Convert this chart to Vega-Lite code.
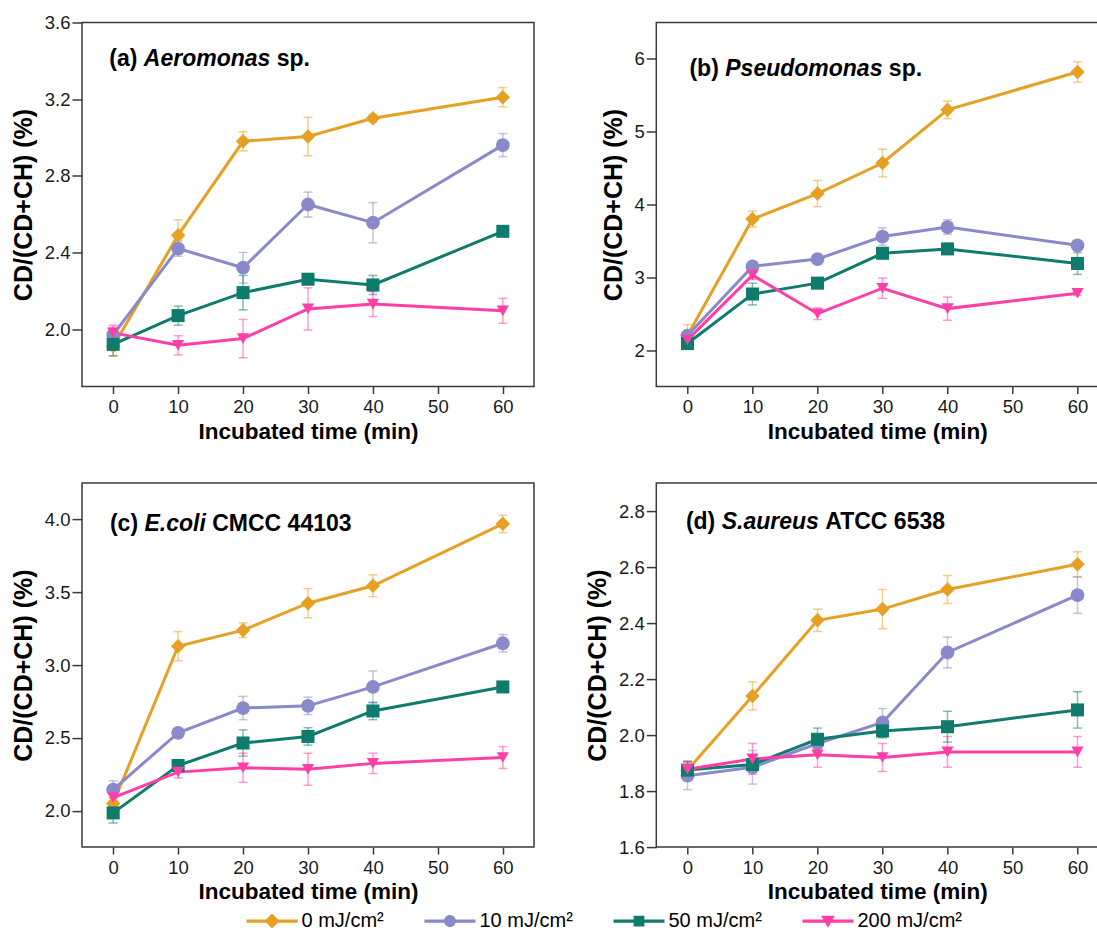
{
"$schema": "https://vega.github.io/schema/vega-lite/v6.json",
"background": "white",
"padding": {"left": 10, "top": 12.5, "right": 0, "bottom": 0},
"datasets": {
"pts": [
{"p":"a","dose":"0 mJ/cm²","t":0,"v":1.91,"e":0.05},
{"p":"a","dose":"0 mJ/cm²","t":10,"v":2.49,"e":0.08},
{"p":"a","dose":"0 mJ/cm²","t":20,"v":2.98,"e":0.05},
{"p":"a","dose":"0 mJ/cm²","t":30,"v":3.005,"e":0.10},
{"p":"a","dose":"0 mJ/cm²","t":40,"v":3.10,"e":0.02},
{"p":"a","dose":"0 mJ/cm²","t":60,"v":3.21,"e":0.05},
{"p":"a","dose":"10 mJ/cm²","t":0,"v":1.97,"e":0.04},
{"p":"a","dose":"10 mJ/cm²","t":10,"v":2.42,"e":0.04},
{"p":"a","dose":"10 mJ/cm²","t":20,"v":2.32,"e":0.08},
{"p":"a","dose":"10 mJ/cm²","t":30,"v":2.65,"e":0.065},
{"p":"a","dose":"10 mJ/cm²","t":40,"v":2.555,"e":0.105},
{"p":"a","dose":"10 mJ/cm²","t":60,"v":2.96,"e":0.06},
{"p":"a","dose":"50 mJ/cm²","t":0,"v":1.92,"e":0.06},
{"p":"a","dose":"50 mJ/cm²","t":10,"v":2.07,"e":0.05},
{"p":"a","dose":"50 mJ/cm²","t":20,"v":2.19,"e":0.09},
{"p":"a","dose":"50 mJ/cm²","t":30,"v":2.26,"e":0.02},
{"p":"a","dose":"50 mJ/cm²","t":40,"v":2.23,"e":0.05},
{"p":"a","dose":"50 mJ/cm²","t":60,"v":2.51,"e":0.01},
{"p":"a","dose":"200 mJ/cm²","t":0,"v":1.98,"e":0.04},
{"p":"a","dose":"200 mJ/cm²","t":10,"v":1.915,"e":0.05},
{"p":"a","dose":"200 mJ/cm²","t":20,"v":1.95,"e":0.10},
{"p":"a","dose":"200 mJ/cm²","t":30,"v":2.105,"e":0.11},
{"p":"a","dose":"200 mJ/cm²","t":40,"v":2.13,"e":0.065},
{"p":"a","dose":"200 mJ/cm²","t":60,"v":2.095,"e":0.065},
{"p":"b","dose":"0 mJ/cm²","t":0,"v":2.20,"e":0.15},
{"p":"b","dose":"0 mJ/cm²","t":10,"v":3.80,"e":0.11},
{"p":"b","dose":"0 mJ/cm²","t":20,"v":4.15,"e":0.18},
{"p":"b","dose":"0 mJ/cm²","t":30,"v":4.57,"e":0.19},
{"p":"b","dose":"0 mJ/cm²","t":40,"v":5.30,"e":0.12},
{"p":"b","dose":"0 mJ/cm²","t":60,"v":5.82,"e":0.14},
{"p":"b","dose":"10 mJ/cm²","t":0,"v":2.20,"e":0.05},
{"p":"b","dose":"10 mJ/cm²","t":10,"v":3.15,"e":0.05},
{"p":"b","dose":"10 mJ/cm²","t":20,"v":3.25,"e":0.05},
{"p":"b","dose":"10 mJ/cm²","t":30,"v":3.56,"e":0.12},
{"p":"b","dose":"10 mJ/cm²","t":40,"v":3.69,"e":0.10},
{"p":"b","dose":"10 mJ/cm²","t":60,"v":3.44,"e":0.06},
{"p":"b","dose":"50 mJ/cm²","t":0,"v":2.09,"e":0.04},
{"p":"b","dose":"50 mJ/cm²","t":10,"v":2.77,"e":0.15},
{"p":"b","dose":"50 mJ/cm²","t":20,"v":2.92,"e":0.04},
{"p":"b","dose":"50 mJ/cm²","t":30,"v":3.33,"e":0.05},
{"p":"b","dose":"50 mJ/cm²","t":40,"v":3.39,"e":0.04},
{"p":"b","dose":"50 mJ/cm²","t":60,"v":3.19,"e":0.15},
{"p":"b","dose":"200 mJ/cm²","t":0,"v":2.14,"e":0.05},
{"p":"b","dose":"200 mJ/cm²","t":10,"v":3.03,"e":0.06},
{"p":"b","dose":"200 mJ/cm²","t":20,"v":2.50,"e":0.08},
{"p":"b","dose":"200 mJ/cm²","t":30,"v":2.85,"e":0.14},
{"p":"b","dose":"200 mJ/cm²","t":40,"v":2.57,"e":0.16},
{"p":"b","dose":"200 mJ/cm²","t":60,"v":2.78,"e":0.03},
{"p":"c","dose":"0 mJ/cm²","t":0,"v":2.05,"e":0.04},
{"p":"c","dose":"0 mJ/cm²","t":10,"v":3.13,"e":0.10},
{"p":"c","dose":"0 mJ/cm²","t":20,"v":3.24,"e":0.05},
{"p":"c","dose":"0 mJ/cm²","t":30,"v":3.425,"e":0.10},
{"p":"c","dose":"0 mJ/cm²","t":40,"v":3.545,"e":0.075},
{"p":"c","dose":"0 mJ/cm²","t":60,"v":3.97,"e":0.06},
{"p":"c","dose":"10 mJ/cm²","t":0,"v":2.145,"e":0.06},
{"p":"c","dose":"10 mJ/cm²","t":10,"v":2.535,"e":0.03},
{"p":"c","dose":"10 mJ/cm²","t":20,"v":2.705,"e":0.08},
{"p":"c","dose":"10 mJ/cm²","t":30,"v":2.72,"e":0.06},
{"p":"c","dose":"10 mJ/cm²","t":40,"v":2.85,"e":0.11},
{"p":"c","dose":"10 mJ/cm²","t":60,"v":3.15,"e":0.06},
{"p":"c","dose":"50 mJ/cm²","t":0,"v":1.985,"e":0.07},
{"p":"c","dose":"50 mJ/cm²","t":10,"v":2.31,"e":0.04},
{"p":"c","dose":"50 mJ/cm²","t":20,"v":2.465,"e":0.09},
{"p":"c","dose":"50 mJ/cm²","t":30,"v":2.51,"e":0.06},
{"p":"c","dose":"50 mJ/cm²","t":40,"v":2.685,"e":0.06},
{"p":"c","dose":"50 mJ/cm²","t":60,"v":2.85,"e":0.03},
{"p":"c","dose":"200 mJ/cm²","t":0,"v":2.09,"e":0.03},
{"p":"c","dose":"200 mJ/cm²","t":10,"v":2.265,"e":0.04},
{"p":"c","dose":"200 mJ/cm²","t":20,"v":2.295,"e":0.10},
{"p":"c","dose":"200 mJ/cm²","t":30,"v":2.285,"e":0.11},
{"p":"c","dose":"200 mJ/cm²","t":40,"v":2.325,"e":0.07},
{"p":"c","dose":"200 mJ/cm²","t":60,"v":2.365,"e":0.075},
{"p":"d","dose":"0 mJ/cm²","t":0,"v":1.875,"e":0.03},
{"p":"d","dose":"0 mJ/cm²","t":10,"v":2.14,"e":0.05},
{"p":"d","dose":"0 mJ/cm²","t":20,"v":2.41,"e":0.04},
{"p":"d","dose":"0 mJ/cm²","t":30,"v":2.45,"e":0.07},
{"p":"d","dose":"0 mJ/cm²","t":40,"v":2.52,"e":0.05},
{"p":"d","dose":"0 mJ/cm²","t":60,"v":2.61,"e":0.045},
{"p":"d","dose":"10 mJ/cm²","t":0,"v":1.855,"e":0.05},
{"p":"d","dose":"10 mJ/cm²","t":10,"v":1.885,"e":0.06},
{"p":"d","dose":"10 mJ/cm²","t":20,"v":1.97,"e":0.03},
{"p":"d","dose":"10 mJ/cm²","t":30,"v":2.045,"e":0.05},
{"p":"d","dose":"10 mJ/cm²","t":40,"v":2.295,"e":0.055},
{"p":"d","dose":"10 mJ/cm²","t":60,"v":2.50,"e":0.065},
{"p":"d","dose":"50 mJ/cm²","t":0,"v":1.875,"e":0.03},
{"p":"d","dose":"50 mJ/cm²","t":10,"v":1.895,"e":0.02},
{"p":"d","dose":"50 mJ/cm²","t":20,"v":1.985,"e":0.04},
{"p":"d","dose":"50 mJ/cm²","t":30,"v":2.015,"e":0.025},
{"p":"d","dose":"50 mJ/cm²","t":40,"v":2.03,"e":0.055},
{"p":"d","dose":"50 mJ/cm²","t":60,"v":2.09,"e":0.065},
{"p":"d","dose":"200 mJ/cm²","t":0,"v":1.878,"e":0.03},
{"p":"d","dose":"200 mJ/cm²","t":10,"v":1.915,"e":0.055},
{"p":"d","dose":"200 mJ/cm²","t":20,"v":1.93,"e":0.045},
{"p":"d","dose":"200 mJ/cm²","t":30,"v":1.92,"e":0.05},
{"p":"d","dose":"200 mJ/cm²","t":40,"v":1.94,"e":0.055},
{"p":"d","dose":"200 mJ/cm²","t":60,"v":1.94,"e":0.055}
]
},
"bounds": "flush",
"columns": 2,
"spacing": {"row": 96.6, "column": 122.3},
"resolve": {"scale": {"color": "independent", "shape": "independent", "size": "independent"}},
"concat": [
{
"width": 452, "height": 364,
"layer": [
{"data": {"name": "pts"}, "transform": [{"filter": "datum.p === 'a'"}],
 "mark": {"type": "errorbar", "ticks": {"size": 9, "opacity": 0.5}, "rule": {"opacity": 0.5}, "thickness": 1.5},
 "encoding": {
  "x": {"field": "t", "type": "quantitative", "scale": {"domain": [-4.8, 64.8], "nice": false, "zero": false}, "axis": {"values": [0,10,20,30,40,50,60], "title": "Incubated time (min)"}},
  "y": {"field": "v", "type": "quantitative", "scale": {"domain": [1.7, 3.6], "nice": false, "zero": false}, "axis": {"values": [2.0,2.4,2.8,3.2,3.6], "format": ".1f", "title": "CD/(CD+CH) (%)"}},
  "yError": {"field": "e"},
  "color": {"field": "dose", "type": "nominal", "scale": {"domain": ["0 mJ/cm²","10 mJ/cm²","50 mJ/cm²","200 mJ/cm²"], "range": ["#E6A023","#8A8ACB","#0F7B6C","#FF3EA8"]}, "legend": null}
 }},
{"data": {"name": "pts"}, "transform": [{"filter": "datum.p === 'a'"}],
 "mark": {"type": "line", "strokeWidth": 3},
 "encoding": {
  "x": {"field": "t", "type": "quantitative"},
  "y": {"field": "v", "type": "quantitative"},
  "color": {"field": "dose", "type": "nominal", "legend": null}
 }},
{"data": {"name": "pts"}, "transform": [{"filter": "datum.p === 'a'"}],
 "mark": {"type": "point", "filled": true, "opacity": 1, "strokeWidth": 0},
 "encoding": {
  "x": {"field": "t", "type": "quantitative"},
  "y": {"field": "v", "type": "quantitative"},
  "color": {"field": "dose", "type": "nominal", "legend": null},
  "shape": {"field": "dose", "type": "nominal", "scale": {"domain": ["0 mJ/cm²","10 mJ/cm²","50 mJ/cm²","200 mJ/cm²"], "range": ["diamond","circle","square","triangle-down"]}, "legend": null},
  "size": {"field": "dose", "type": "nominal", "scale": {"domain": ["0 mJ/cm²","10 mJ/cm²","50 mJ/cm²","200 mJ/cm²"], "range": [210,150,120,160]}, "legend": null}
 }},
{"data": {"values": [{"label": "(a)"}]},
 "mark": {"type": "text", "align": "left", "baseline": "middle", "fontSize": 23, "fontWeight": "bold", "color": "black"},
 "encoding": {"x": {"datum": -0.6}, "y": {"datum": 3.41}, "text": {"field": "label"}}},
{"data": {"values": [{"label": "Aeromonas"}]},
 "mark": {"type": "text", "align": "left", "baseline": "middle", "fontSize": 23, "fontWeight": "bold", "fontStyle": "italic", "color": "black", "dx": 34.5},
 "encoding": {"x": {"datum": -0.6}, "y": {"datum": 3.41}, "text": {"field": "label"}}},
{"data": {"values": [{"label": "sp."}]},
 "mark": {"type": "text", "align": "left", "baseline": "middle", "fontSize": 23, "fontWeight": "bold", "color": "black", "dx": 167.4},
 "encoding": {"x": {"datum": -0.6}, "y": {"datum": 3.41}, "text": {"field": "label"}}}
]
},
{
"width": 442, "height": 364,
"layer": [
{"data": {"name": "pts"}, "transform": [{"filter": "datum.p === 'b'"}],
 "mark": {"type": "errorbar", "ticks": {"size": 9, "opacity": 0.5}, "rule": {"opacity": 0.5}, "thickness": 1.5},
 "encoding": {
  "x": {"field": "t", "type": "quantitative", "scale": {"domain": [-4.8, 63.2], "nice": false, "zero": false}, "axis": {"values": [0,10,20,30,40,50,60], "title": "Incubated time (min)"}},
  "y": {"field": "v", "type": "quantitative", "scale": {"domain": [1.5, 6.5], "nice": false, "zero": false}, "axis": {"values": [2,3,4,5,6], "format": "d", "title": "CD/(CD+CH) (%)"}},
  "yError": {"field": "e"},
  "color": {"field": "dose", "type": "nominal", "scale": {"domain": ["0 mJ/cm²","10 mJ/cm²","50 mJ/cm²","200 mJ/cm²"], "range": ["#E6A023","#8A8ACB","#0F7B6C","#FF3EA8"]}, "legend": null}
 }},
{"data": {"name": "pts"}, "transform": [{"filter": "datum.p === 'b'"}],
 "mark": {"type": "line", "strokeWidth": 3},
 "encoding": {
  "x": {"field": "t", "type": "quantitative"},
  "y": {"field": "v", "type": "quantitative"},
  "color": {"field": "dose", "type": "nominal", "legend": null}
 }},
{"data": {"name": "pts"}, "transform": [{"filter": "datum.p === 'b'"}],
 "mark": {"type": "point", "filled": true, "opacity": 1, "strokeWidth": 0},
 "encoding": {
  "x": {"field": "t", "type": "quantitative"},
  "y": {"field": "v", "type": "quantitative"},
  "color": {"field": "dose", "type": "nominal", "legend": null},
  "shape": {"field": "dose", "type": "nominal", "scale": {"domain": ["0 mJ/cm²","10 mJ/cm²","50 mJ/cm²","200 mJ/cm²"], "range": ["diamond","circle","square","triangle-down"]}, "legend": null},
  "size": {"field": "dose", "type": "nominal", "scale": {"domain": ["0 mJ/cm²","10 mJ/cm²","50 mJ/cm²","200 mJ/cm²"], "range": [210,150,120,160]}, "legend": null}
 }},
{"data": {"values": [{"label": "(b)"}]},
 "mark": {"type": "text", "align": "left", "baseline": "middle", "fontSize": 23, "fontWeight": "bold", "color": "black"},
 "encoding": {"x": {"datum": 0.3}, "y": {"datum": 5.86}, "text": {"field": "label"}}},
{"data": {"values": [{"label": "Pseudomonas"}]},
 "mark": {"type": "text", "align": "left", "baseline": "middle", "fontSize": 23, "fontWeight": "bold", "fontStyle": "italic", "color": "black", "dx": 35.8},
 "encoding": {"x": {"datum": 0.3}, "y": {"datum": 5.86}, "text": {"field": "label"}}},
{"data": {"values": [{"label": "sp."}]},
 "mark": {"type": "text", "align": "left", "baseline": "middle", "fontSize": 23, "fontWeight": "bold", "color": "black", "dx": 199.4},
 "encoding": {"x": {"datum": 0.3}, "y": {"datum": 5.86}, "text": {"field": "label"}}}
]
},
{
"width": 452, "height": 364,
"resolve": {"scale": {"color": "independent", "shape": "independent", "size": "independent"}},
"layer": [
{"data": {"name": "pts"}, "transform": [{"filter": "datum.p === 'c'"}],
 "mark": {"type": "errorbar", "ticks": {"size": 9, "opacity": 0.5}, "rule": {"opacity": 0.5}, "thickness": 1.5},
 "encoding": {
  "x": {"field": "t", "type": "quantitative", "scale": {"domain": [-4.8, 64.8], "nice": false, "zero": false}, "axis": {"values": [0,10,20,30,40,50,60], "title": "Incubated time (min)"}},
  "y": {"field": "v", "type": "quantitative", "scale": {"domain": [1.75, 4.25], "nice": false, "zero": false}, "axis": {"values": [2.0,2.5,3.0,3.5,4.0], "format": ".1f", "title": "CD/(CD+CH) (%)"}},
  "yError": {"field": "e"},
  "color": {"field": "dose", "type": "nominal", "scale": {"domain": ["0 mJ/cm²","10 mJ/cm²","50 mJ/cm²","200 mJ/cm²"], "range": ["#E6A023","#8A8ACB","#0F7B6C","#FF3EA8"]}, "legend": null}
 }},
{"data": {"name": "pts"}, "transform": [{"filter": "datum.p === 'c'"}],
 "mark": {"type": "line", "strokeWidth": 3},
 "encoding": {
  "x": {"field": "t", "type": "quantitative"},
  "y": {"field": "v", "type": "quantitative"},
  "color": {"field": "dose", "type": "nominal", "scale": {"domain": ["0 mJ/cm²","10 mJ/cm²","50 mJ/cm²","200 mJ/cm²"], "range": ["#E6A023","#8A8ACB","#0F7B6C","#FF3EA8"]}, "legend": null}
 }},
{"data": {"name": "pts"}, "transform": [{"filter": "datum.p === 'c'"}],
 "mark": {"type": "point", "filled": true, "opacity": 1, "strokeWidth": 0},
 "encoding": {
  "x": {"field": "t", "type": "quantitative"},
  "y": {"field": "v", "type": "quantitative"},
  "color": {"field": "dose", "type": "nominal", "scale": {"domain": ["0 mJ/cm²","10 mJ/cm²","50 mJ/cm²","200 mJ/cm²"], "range": ["#E6A023","#8A8ACB","#0F7B6C","#FF3EA8"]}, "legend": null},
  "shape": {"field": "dose", "type": "nominal", "scale": {"domain": ["0 mJ/cm²","10 mJ/cm²","50 mJ/cm²","200 mJ/cm²"], "range": ["diamond","circle","square","triangle-down"]}, "legend": null},
  "size": {"field": "dose", "type": "nominal", "scale": {"domain": ["0 mJ/cm²","10 mJ/cm²","50 mJ/cm²","200 mJ/cm²"], "range": [210,150,120,160]}, "legend": null}
 }},
{"data": {"values": [{"label": "(c)"}]},
 "mark": {"type": "text", "align": "left", "baseline": "middle", "fontSize": 23, "fontWeight": "bold", "color": "black"},
 "encoding": {"x": {"datum": -0.5}, "y": {"datum": 3.97}, "text": {"field": "label"}}},
{"data": {"values": [{"label": "E.coli"}]},
 "mark": {"type": "text", "align": "left", "baseline": "middle", "fontSize": 23, "fontWeight": "bold", "fontStyle": "italic", "color": "black", "dx": 34.5},
 "encoding": {"x": {"datum": -0.5}, "y": {"datum": 3.97}, "text": {"field": "label"}}},
{"data": {"values": [{"label": "CMCC 44103"}]},
 "mark": {"type": "text", "align": "left", "baseline": "middle", "fontSize": 23, "fontWeight": "bold", "color": "black", "dx": 102.3},
 "encoding": {"x": {"datum": -0.5}, "y": {"datum": 3.97}, "text": {"field": "label"}}},
{"data": {"values": [{"dose": "0 mJ/cm²"}, {"dose": "10 mJ/cm²"}, {"dose": "50 mJ/cm²"}, {"dose": "200 mJ/cm²"}]},
 "mark": {"type": "point", "filled": true, "opacity": 0},
 "encoding": {
  "color": {"field": "dose", "type": "nominal", "scale": {"domain": ["0 mJ/cm²","10 mJ/cm²","50 mJ/cm²","200 mJ/cm²"], "range": ["#E6A023","#8A8ACB","#0F7B6C","#FF3EA8"]},
   "legend": {"orient": "none", "legendX": 180, "legendY": 428, "direction": "horizontal", "title": null, "symbolSize": 144, "labelOffset": 19.5, "columnPadding": 40, "labelFontSize": 20, "labelColor": "black", "symbolOpacity": 1, "symbolStrokeWidth": 0}},
  "shape": {"field": "dose", "type": "nominal", "scale": {"domain": ["0 mJ/cm²","10 mJ/cm²","50 mJ/cm²","200 mJ/cm²"], "range": [
   "M-4.25,-0.28H4.25V0.28H-4.25Z M0,-1.25L1.25,0L0,1.25L-1.25,0Z",
   "M-4.25,-0.28H4.25V0.28H-4.25Z M1,0A1,1,0,1,1,-1,0A1,1,0,1,1,1,0Z",
   "M-4.25,-0.28H4.25V0.28H-4.25Z M-0.9,-0.9H0.9V0.9H-0.9Z",
   "M-4.25,-0.28H4.25V0.28H-4.25Z M-1.15,-0.9H1.15L0,1.1Z"]},
   "legend": {"orient": "none", "legendX": 180, "legendY": 428, "direction": "horizontal", "title": null, "symbolSize": 144, "labelOffset": 19.5, "columnPadding": 40, "labelFontSize": 20, "labelColor": "black", "symbolOpacity": 1, "symbolStrokeWidth": 0}}
 }}
]
},
{
"width": 442, "height": 364,
"layer": [
{"data": {"name": "pts"}, "transform": [{"filter": "datum.p === 'd'"}],
 "mark": {"type": "errorbar", "ticks": {"size": 9, "opacity": 0.5}, "rule": {"opacity": 0.5}, "thickness": 1.5},
 "encoding": {
  "x": {"field": "t", "type": "quantitative", "scale": {"domain": [-4.8, 63.2], "nice": false, "zero": false}, "axis": {"values": [0,10,20,30,40,50,60], "title": "Incubated time (min)"}},
  "y": {"field": "v", "type": "quantitative", "scale": {"domain": [1.6, 2.9], "nice": false, "zero": false}, "axis": {"values": [1.6,1.8,2.0,2.2,2.4,2.6,2.8], "format": ".1f", "title": "CD/(CD+CH) (%)"}},
  "yError": {"field": "e"},
  "color": {"field": "dose", "type": "nominal", "scale": {"domain": ["0 mJ/cm²","10 mJ/cm²","50 mJ/cm²","200 mJ/cm²"], "range": ["#E6A023","#8A8ACB","#0F7B6C","#FF3EA8"]}, "legend": null}
 }},
{"data": {"name": "pts"}, "transform": [{"filter": "datum.p === 'd'"}],
 "mark": {"type": "line", "strokeWidth": 3},
 "encoding": {
  "x": {"field": "t", "type": "quantitative"},
  "y": {"field": "v", "type": "quantitative"},
  "color": {"field": "dose", "type": "nominal", "legend": null}
 }},
{"data": {"name": "pts"}, "transform": [{"filter": "datum.p === 'd'"}],
 "mark": {"type": "point", "filled": true, "opacity": 1, "strokeWidth": 0},
 "encoding": {
  "x": {"field": "t", "type": "quantitative"},
  "y": {"field": "v", "type": "quantitative"},
  "color": {"field": "dose", "type": "nominal", "legend": null},
  "shape": {"field": "dose", "type": "nominal", "scale": {"domain": ["0 mJ/cm²","10 mJ/cm²","50 mJ/cm²","200 mJ/cm²"], "range": ["diamond","circle","square","triangle-down"]}, "legend": null},
  "size": {"field": "dose", "type": "nominal", "scale": {"domain": ["0 mJ/cm²","10 mJ/cm²","50 mJ/cm²","200 mJ/cm²"], "range": [210,150,120,160]}, "legend": null}
 }},
{"data": {"values": [{"label": "(d)"}]},
 "mark": {"type": "text", "align": "left", "baseline": "middle", "fontSize": 23, "fontWeight": "bold", "color": "black"},
 "encoding": {"x": {"datum": -0.25}, "y": {"datum": 2.76}, "text": {"field": "label"}}},
{"data": {"values": [{"label": "S.aureus"}]},
 "mark": {"type": "text", "align": "left", "baseline": "middle", "fontSize": 23, "fontWeight": "bold", "fontStyle": "italic", "color": "black", "dx": 35.8},
 "encoding": {"x": {"datum": -0.25}, "y": {"datum": 2.76}, "text": {"field": "label"}}},
{"data": {"values": [{"label": "ATCC 6538"}]},
 "mark": {"type": "text", "align": "left", "baseline": "middle", "fontSize": 23, "fontWeight": "bold", "color": "black", "dx": 139.4},
 "encoding": {"x": {"datum": -0.25}, "y": {"datum": 2.76}, "text": {"field": "label"}}}
]
}
],
"config": {
 "font": "Liberation Sans",
 "view": {"stroke": "#3a3a3a", "strokeWidth": 1.5},
 "axis": {"grid": false, "domain": false, "ticks": true, "tickColor": "#3a3a3a", "tickWidth": 1.5, "labelFont": "Liberation Sans", "labelFontSize": 18.5, "labelColor": "#1a1a1a", "labelFlush": false, "titleFont": "Liberation Sans", "titleFontWeight": "bold", "titleColor": "black"},
 "axisX": {"tickSize": 7, "labelPadding": 4, "titleFontSize": 22.5, "titlePadding": 4},
 "axisY": {"tickSize": 10, "labelPadding": 2, "titleFontSize": 25, "titlePadding": 8},
 "legend": {"labelFont": "Liberation Sans"}
}
}
